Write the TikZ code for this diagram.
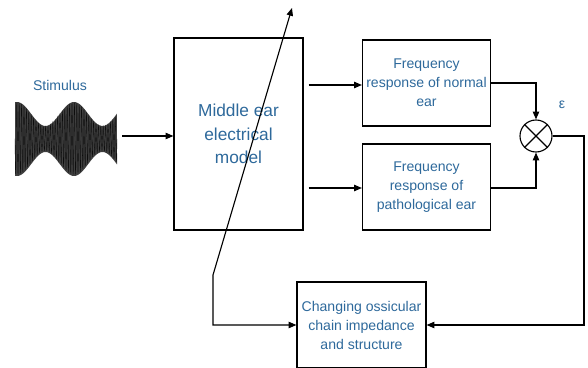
\documentclass[tikz,border=0pt]{standalone}
\usepackage{fontspec}
\setmainfont{Liberation Sans}
\usetikzlibrary{arrows.meta,calc}
\definecolor{txtblue}{RGB}{46,105,155}

\begin{document}
\begin{tikzpicture}[x=0.025cm,y=-0.025cm,
		>={Triangle[length=5.5pt,width=4.5pt]},
		blk/.style={draw,line width=0.8pt,text=txtblue,align=center,inner sep=0pt,
			minimum width=3.2cm,minimum height=2.15cm,font=\fontsize{10}{13.5}\selectfont},
		conn/.style={line width=0.8pt}]
		\useasboundingbox (0,0) rectangle (588,368);
		% stimulus waveform
		\node[text=txtblue,font=\fontsize{10}{12}\selectfont] (stim) at (60,85) {Stimulus};
		\fill[black!75] plot[domain=15:117,samples=120] (\x,{138-(24+12*cos((\x-17)*6.316))})
			-- plot[domain=117:15,samples=120] (\x,{139+(25+12*cos((\x-17)*6.316))}) -- cycle;
		\draw[black!95,line width=0.25pt] plot[domain=0:102,samples=600]
			({15+\x},{138.5+(24+12*cos((\x-2)*6.316))*sin(\x*150)});
		\coordinate (wave) at (122,136);
	
		% blocks
		\node[blk,minimum width=3.225cm,minimum height=4.8cm,font=\fontsize{12.3}{16.7}\selectfont]
			(mid) at (238.5,134) {Middle ear\\electrical\\model};
		\node[blk] (norm) at (426.5,83) {Frequency\\response of normal\\ear};
		\node[blk] (path) at (426.5,187) {Frequency\\response of\\pathological ear};
		\node[blk,minimum width=3.225cm] (chg) at (361.5,325) {Changing ossicular\\chain impedance\\and structure};
		\node[draw,circle,line width=0.8pt,minimum size=0.8cm,inner sep=0pt] (sum) at (536,136) {};
		\draw[line width=0.8pt] (sum.north west) -- (sum.south east) (sum.north east) -- (sum.south west);
		\node[text=txtblue,font=\fontsize{10}{12}\selectfont] (eps) at (562,105) {ε};
	
		% connectors
		\coordinate (tuneA) at (213,275);
		\coordinate (tuneB) at (292,8);
		\coordinate (back) at (584,136);
		\draw[conn,->] (wave) -- (wave -| mid.west);
		\draw[conn,->] ($(mid.east |- norm.west)+(5,2)$) -- ($(norm.west)+(0,2)$);
		\draw[conn,->] ($(mid.east |- path.west)+(5,1)$) -- ($(path.west)+(0,1)$);
		\draw[conn,->] (norm.east) -| (sum.north);
		\draw[conn,->] ($(path.east)+(0,1)$) -| (sum.south);
		\draw[conn,->] (sum.east) -- (back) |- (chg.east);
		\draw[conn,<->] (tuneB) -- (tuneA) |- (chg.west);
	\end{tikzpicture}
\end{document}
